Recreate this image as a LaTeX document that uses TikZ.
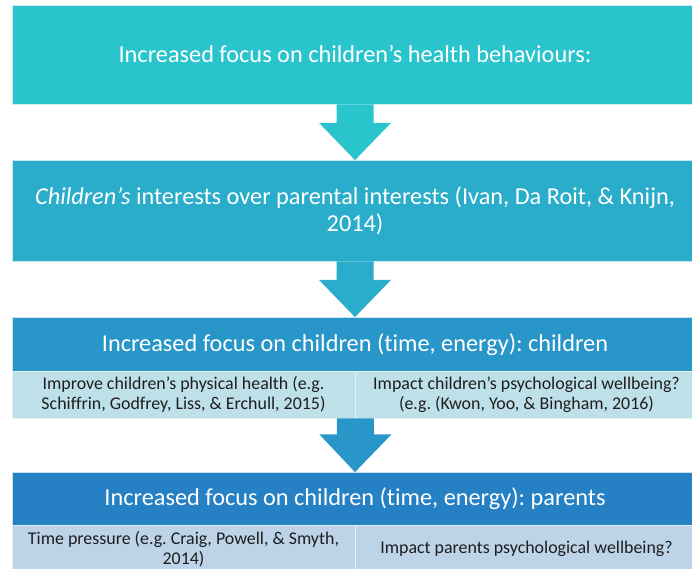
\documentclass[tikz,border=0pt]{standalone}
\usepackage{fontspec}
\setmainfont{Carlito}[RawFeature={-liga}]
\usetikzlibrary{calc}
\frenchspacing
\definecolor{cA}{RGB}{41,196,204}
\definecolor{cB}{RGB}{41,173,202}
\definecolor{cC}{RGB}{40,150,200}
\definecolor{cD}{RGB}{37,129,196}
\definecolor{sC}{RGB}{190,224,232}
\definecolor{sD}{RGB}{188,211,232}
\definecolor{txt}{RGB}{30,30,30}
\tikzset{
  bigbox/.style={rectangle, inner sep=0pt, minimum width=686pt, draw=white!75!#1, line width=0.8pt, fill=#1, text=white, align=center},
  subbox/.style={rectangle, inner sep=0pt, minimum width=343pt, draw=white!60!#1, line width=0.8pt, fill=#1, text=txt, align=center},
  bigtxt/.style={font=\fontsize{24.3}{27.5}\selectfont},
  smalltxt/.style={font=\fontsize{17.9}{19.5}\selectfont},
}
\newcommand{\downarrowshape}[3]{% #1 from node, #2 to node, #3 colour
  \fill[#3] ($(#1.south)+(-18.5,0)$) -- ($(#1.south)+(18.5,0)$) -- ($(#1.south)+(18.5,18.5)$) -- ($(#1.south)+(36,18.5)$) -- (#2.north) -- ($(#1.south)+(-36,18.5)$) -- ($(#1.south)+(-18.5,18.5)$) -- cycle;
}
\begin{document}
\begin{tikzpicture}[x=1pt,y=-1pt]
\useasboundingbox (0,0) rectangle (692,568);
\clip (0,0) rectangle (692,568);
\node[bigbox=cA, bigtxt, minimum height=99pt] (b1) at (355,54.5) {Increased focus on children’s health behaviours:};
\node[bigbox=cB, bigtxt, minimum height=100.5pt] (b2) at (355,210.75) {\textit{Children’s} interests over parental interests (Ivan, Da Roit, \& Knijn,\\2014)};
\node[bigbox=cC, bigtxt, minimum height=53.5pt] (b3) at (355,344.25) {Increased focus on children (time, energy): children};
\node[subbox=sC, smalltxt, minimum height=47pt] (b3l) at (183.5,394.5) {Improve children’s physical health (e.g.\\Schiffrin, Godfrey, Liss, \& Erchull, 2015)};
\node[subbox=sC, smalltxt, minimum height=47pt] (b3r) at (526.5,394.5) {Impact children’s psychological wellbeing?\\(e.g. (Kwon, Yoo, \& Bingham, 2016)};
\node[bigbox=cD, bigtxt, minimum height=52.5pt] (b4) at (355,498.75) {Increased focus on children (time, energy): parents};
\node[subbox=sD, smalltxt, minimum height=48pt] (b4l) at (183.5,549) {Time pressure (e.g. Craig, Powell, \& Smyth,\\2014)};
\node[subbox=sD, smalltxt, minimum height=48pt] (b4r) at (526.5,549) {Impact parents psychological wellbeing?};
\downarrowshape{b1}{b2}{cA}
\downarrowshape{b2}{b3}{cB}
\coordinate (b3s) at (b3l.south east);
\fill[cC] ($(b3s)+(-18.5,0)$) -- ($(b3s)+(18.5,0)$) -- ($(b3s)+(18.5,16)$) -- ($(b3s)+(36,16)$) -- (b4.north) -- ($(b3s)+(-36,16)$) -- ($(b3s)+(-18.5,16)$) -- cycle;
\end{tikzpicture}
\end{document}
